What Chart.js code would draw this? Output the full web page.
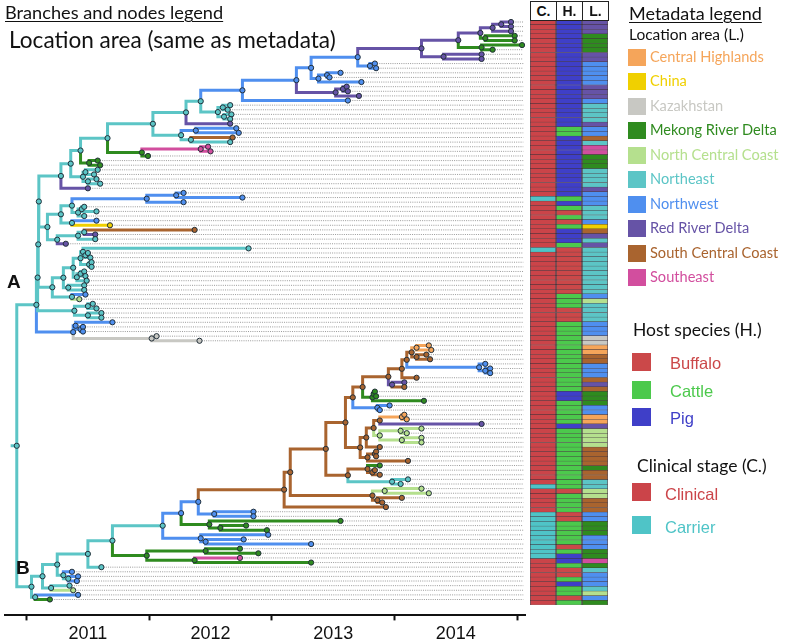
<!DOCTYPE html>
<html>
<head>
<meta charset="utf-8">
<title>Time-scaled tree with metadata</title>
<script src="https://cdn.jsdelivr.net/npm/chart.js@4.4.1/dist/chart.umd.min.js"></script>
<style>
  html, body { margin: 0; padding: 0; background: #fff; }
  body { position: relative; width: 785px; height: 641px; overflow: hidden; font-family: Lato, 'Noto Sans', sans-serif; color: #111; }
  canvas { position: absolute; }
  #treeCanvas { left: 0; top: 0; }
  #metaCanvas { left: 526px; top: 0; }
  .txt { position: absolute; white-space: nowrap; line-height: 1; }
  .u { text-decoration: underline; text-decoration-thickness: 1px; text-underline-offset: 2px; }
  .sw { position: absolute; }
  .hdr { position: absolute; top: 1px; height: 20px; width: 27px; box-sizing: border-box; border: 1px solid #222; background: #fff;
         font: bold 14px 'Liberation Sans', Arial, sans-serif; text-align: center; line-height: 19px; }
  .clade { font: bold 19px 'Liberation Sans', Arial, sans-serif; }
</style>
</head>
<body>
<canvas id="treeCanvas" width="530" height="648"></canvas>
<canvas id="metaCanvas" width="86" height="641"></canvas>
<div class="txt u" style="left:5px;top:3px;font-size:18.2px">Branches and nodes legend</div>
<div class="txt" style="left:9px;top:29px;font-size:22.6px">Location area (same as metadata)</div>
<div class="txt clade" style="left:7px;top:271px">A</div>
<div class="txt clade" style="left:16px;top:557px">B</div>
<div id="legend"></div>
<script>
// ========== Categories
const locationCodes = ['H', 'C', 'K', 'M', 'N', 'E', 'W', 'R', 'S', 'P'];
const locationNames = ['Central Highlands', 'China', 'Kazakhstan', 'Mekong River Delta', 'North Central Coast',
                       'Northeast', 'Northwest', 'Red River Delta', 'South Central Coast', 'Southeast'];
const locationColors = ['#F5A55A', '#F0D000', '#C8C8C3', '#2F8B1F', '#B5E08E',
                        '#5CC5C6', '#4F8FEF', '#6653A6', '#A9642F', '#D24E9E'];

const hostCodes = ['B', 'C', 'P'];
const hostNames = ['Buffalo', 'Cattle', 'Pig'];
const hostColors = ['#CB4849', '#4CC94C', '#3F3FC8'];

const stageCodes = ['K', 'A'];
const stageNames = ['Clinical', 'Carrier'];
const stageColors = ['#CB4449', '#4FC4C7'];

const yearTicks = [2011, 2012, 2013, 2014, 2015];
const yearLabels = ['2011', '2012', '2013', '2014'];

// ========== Metadata read per tip row (top to bottom), as runs [code, count]
const hostRuns = [['P', 23], ['C', 2], ['P', 13], ['C', 1], ['P', 1], ['C', 1], ['B', 1], ['C', 1], ['B', 1], ['C', 1],
                  ['P', 3], ['C', 1], ['B', 10], ['C', 3], ['B', 3], ['C', 15], ['P', 2], ['C', 5], ['P', 1], ['C', 13],
                  ['B', 1], ['C', 4], ['B', 2], ['C', 5], ['B', 1], ['C', 1], ['P', 2], ['C', 1], ['B', 2], ['C', 1],
                  ['P', 1], ['C', 2], ['B', 1], ['C', 1]];
const stageRuns = [['K', 38], ['A', 1], ['K', 10], ['A', 1], ['K', 50], ['A', 1], ['K', 5], ['A', 10], ['K', 10]];

// ========== Tree: [node date (decimal year), location code, ...children]; tips have no children
const purpleTop = [2014.22, 'R',
  [2014.52, 'R',
    [2014.70, 'R',
      [2014.80, 'R',
        [2014.87, 'R', [2014.95, 'R'], [2014.95, 'R']],
        [2014.95, 'R']],
      [2014.74, 'M', [2014.98, 'M'], [2014.98, 'M']]],
    [2014.71, 'M', [2015.04, 'M'], [2014.80, 'M']]],
  [2014.40, 'R', [2014.71, 'R'], [2014.71, 'R']]];

const northwestTop = [2012.76, 'W',
  [2013.20, 'W',
    [2013.32, 'W',
      [2013.70, 'W', purpleTop, [2013.80, 'W', [2013.84, 'W'], [2013.85, 'W']]],
      [2013.38, 'W', [2013.45, 'W', [2013.56, 'W'], [2013.47, 'W']], [2013.73, 'W']]],
    [2013.52, 'R', [2013.58, 'R', [2013.61, 'R'], [2013.62, 'R']], [2013.71, 'R']]],
  [2013.62, 'W']];

const cladeTop = [2011.28, 'E',
  [2011.36, 'E',
    [2011.44, 'E',
      [2011.66, 'E',
        [2012.03, 'E',
          [2012.30, 'E',
            [2012.42, 'E', northwestTop,
              [2012.56, 'E', [2012.60, 'E', [2012.66, 'E'], [2012.64, 'E']], [2012.61, 'E', [2012.67, 'E'], [2012.66, 'E']]]],
            [2012.66, 'R']],
          [2012.26, 'E',
            [2012.38, 'W', [2012.71, 'W'], [2012.73, 'W']],
            [2012.34, 'E', [2012.68, 'S'], [2012.66, 'E']]]],
        [2011.94, 'M', [2012.42, 'P', [2012.48, 'P'], [2012.50, 'P']], [2011.99, 'M']]],
      [2011.51, 'M', [2011.58, 'M'], [2011.60, 'M']]],
    [2011.46, 'E', [2011.48, 'E', [2011.58, 'E'], [2011.55, 'E']], [2011.50, 'E', [2011.57, 'E'], [2011.60, 'E']]]],
  [2011.50, 'R']];

const cladeMid = [2011.17, 'E',
  [2011.28, 'E',
    [2011.37, 'E',
      [2011.98, 'W', [2012.22, 'W', [2012.28, 'W'], [2012.76, 'W']], [2012.28, 'W']],
      [2011.42, 'E', [2011.45, 'E', [2011.47, 'E'], [2011.57, 'E']], [2011.47, 'E']]],
    [2011.37, 'E', [2011.57, 'W'], [2011.68, 'C']]],
  [2011.25, 'E',
    [2011.42, 'E', [2011.47, 'E', [2012.37, 'S'], [2011.56, 'R']], [2011.56, 'E']],
    [2011.32, 'R']]];

const cladeNortheast = [2011.21, 'E',
  [2011.30, 'E',
    [2011.38, 'E',
      [2011.44, 'E',
        [2011.46, 'E', [2012.81, 'E'], [2011.48, 'E', [2011.50, 'E'], [2011.52, 'E']]],
        [2011.51, 'E', [2011.53, 'E'], [2011.53, 'E']]],
      [2011.41, 'E', [2011.44, 'E', [2011.47, 'E'], [2011.48, 'E']], [2011.49, 'E']]],
    [2011.34, 'E', [2011.47, 'E'], [2011.47, 'E']]],
  [2011.37, 'E', [2011.48, 'W'], [2011.43, 'N']]];

const cladeSmall = [2011.39, 'E',
  [2011.50, 'E', [2011.54, 'E'], [2011.57, 'E']],
  [2011.50, 'E', [2011.61, 'E'], [2011.61, 'E']]];

const cladeBlue = [2011.38, 'W',
  [2011.40, 'W', [2011.70, 'W'], [2011.44, 'W', [2011.46, 'W'], [2011.46, 'W']]],
  [2012.02, 'K', [2012.06, 'K'], [2012.41, 'K']]];

const cladeA = [2011.08, 'E',
  [2011.09, 'E',
    [2011.095, 'E',
      [2011.10, 'E', cladeTop, cladeMid],
      cladeNortheast],
    cladeSmall],
  cladeBlue];

const cladeSouthCentral = [2013.10, 'S',
  [2013.15, 'S',
    [2013.44, 'S',
      [2013.60, 'S',
        [2013.66, 'S',
          [2013.74, 'S',
            [2013.95, 'S',
              [2014.06, 'S',
                [2014.10, 'S',
                  [2014.14, 'S',
                    [2014.18, 'H', [2014.28, 'H'], [2014.30, 'H']],
                    [2014.18, 'S', [2014.26, 'S'], [2014.29, 'S']]],
                  [2014.69, 'W', [2014.74, 'W'], [2014.74, 'W', [2014.78, 'W'], [2014.78, 'W']]]],
                [2014.18, 'S']],
              [2013.98, 'R', [2014.08, 'R'], [2014.08, 'S']]],
            [2013.82, 'M', [2013.83, 'M', [2013.84, 'M'], [2013.85, 'M']], [2014.24, 'M']]],
          [2013.86, 'W', [2013.96, 'W'], [2013.88, 'W']]],
        [2013.72, 'S',
          [2013.77, 'S',
            [2013.83, 'S',
              [2013.88, 'S', [2014.06, 'H', [2014.08, 'H'], [2014.10, 'H']], [2014.71, 'R']],
              [2013.88, 'N', [2014.05, 'N', [2014.22, 'N'], [2014.10, 'N']], [2014.06, 'N', [2014.22, 'N'], [2014.22, 'N']]]],
            [2013.88, 'S']],
          [2013.78, 'S', [2013.84, 'S', [2013.85, 'S'], [2013.85, 'S']], [2014.11, 'S']]]],
      [2013.62, 'S',
        [2013.78, 'S', [2013.88, 'M'], [2013.82, 'S', [2013.84, 'S'], [2013.88, 'S']]],
        [2013.98, 'E', [2014.11, 'E'], [2014.05, 'E']]]],
    [2013.82, 'S',
      [2013.92, 'N', [2014.22, 'N'], [2014.28, 'N']],
      [2013.86, 'S', [2014.06, 'S'], [2013.90, 'S']]]],
  [2013.93, 'S']];

const cladeB = [2011.04, 'E',
  [2011.13, 'E',
    [2011.25, 'E',
      [2011.50, 'E',
        [2011.70, 'E',
          [2012.11, 'E',
            [2012.26, 'W',
              [2012.40, 'W', cladeSouthCentral, [2012.53, 'W', [2012.85, 'W'], [2012.85, 'W']]],
              [2012.49, 'M', [2013.56, 'M'], [2012.58, 'M', [2012.79, 'M'], [2012.96, 'M']]]],
            [2012.42, 'W', [2012.97, 'W'], [2012.46, 'W', [2012.77, 'W'], [2013.32, 'W']]]],
          [2011.98, 'M',
            [2012.46, 'M', [2012.74, 'M'], [2012.89, 'M']],
            [2012.37, 'M', [2012.74, 'P'], [2013.32, 'M']]]],
        [2011.61, 'E']],
      [2011.30, 'E', [2011.37, 'W'], [2011.34, 'E', [2011.42, 'W'], [2011.41, 'W']]]],
    [2011.20, 'E', [2011.35, 'E'], [2011.38, 'N']]],
  [2011.07, 'E', [2011.42, 'W'], [2011.19, 'M']]];

const treeRoot = [2010.92, 'E', cladeA, cladeB];
const rootStubStart = 2010.87;
const tipGuideEnd = 2015.05;

// ========== Layout of the tree (rows = tips, top to bottom)
const colorOf = code => locationColors[locationCodes.indexOf(code)];
function buildNode(a) {
    return { t: a[0], loc: a[1], kids: a.slice(2).map(buildNode) };
}
const root = buildNode(treeRoot);
const tips = [];
(function place(n) {
    if (!n.kids.length) { n.y = tips.length; tips.push(n); return; }
    n.kids.forEach(place);
    n.y = (n.kids[0].y + n.kids[n.kids.length - 1].y) / 2;
})(root);

const branchPts = {};
locationCodes.forEach(c => branchPts[c] = []);
branchPts[root.loc].push({ x: rootStubStart, y: root.y }, { x: root.t, y: root.y }, { x: null, y: null });
const allNodes = [];
(function walk(n) {
    allNodes.push(n);
    n.kids.forEach(c => {
        branchPts[c.loc].push({ x: n.t, y: n.y }, { x: n.t, y: c.y }, { x: c.t, y: c.y }, { x: null, y: null });
        walk(c);
    });
})(root);

const guidePts = [];
tips.forEach(t => guidePts.push({ x: t.t, y: t.y }, { x: tipGuideEnd, y: t.y }, { x: null, y: null }));

// ========== Tree chart
const treeDatasets = [{
    label: 'Nodes',
    data: allNodes.map(n => ({ x: n.t, y: n.y })),
    showLine: false,
    pointRadius: 2.6,
    pointBorderWidth: 1,
    pointBorderColor: '#23303a',
    pointBackgroundColor: allNodes.map(n => colorOf(n.loc)),
    order: 0,
    clip: false
}];
locationCodes.forEach(c => treeDatasets.push({
    label: locationNames[locationCodes.indexOf(c)],
    data: branchPts[c],
    showLine: true,
    borderColor: colorOf(c),
    borderWidth: 3,
    pointRadius: 0,
    spanGaps: false,
    order: 1,
    clip: false
}));
treeDatasets.push({
    label: 'Tip guides',
    data: guidePts,
    showLine: true,
    borderColor: '#9a9a9a',
    borderWidth: 1,
    borderDash: [1, 1.2],
    pointRadius: 0,
    spanGaps: false,
    order: 2
});

const xMin = 2010.824, xMax = 2015.064;
new Chart(document.getElementById('treeCanvas'), {
    type: 'scatter',
    data: { datasets: treeDatasets },
    options: {
        responsive: false,
        animation: false,
        events: [],
        layout: { padding: { left: 0, right: 0, top: 20, bottom: 0 } },
        plugins: { legend: { display: false }, tooltip: { enabled: false } },
        scales: {
            x: {
                type: 'linear',
                min: xMin,
                max: xMax,
                afterBuildTicks: axis => {
                    const t = [];
                    yearTicks.forEach((v, i) => {
                        t.push({ value: v });
                        if (i < yearLabels.length) t.push({ value: v + 0.5 });
                    });
                    axis.ticks = t;
                },
                ticks: {
                    autoSkip: false,
                    maxRotation: 0,
                    padding: 3,
                    color: '#111',
                    font: { family: "'Liberation Sans', Arial, sans-serif", size: 18 },
                    callback: v => Number.isInteger(v) ? '' : yearLabels[yearTicks.indexOf(v - 0.5)]
                },
                grid: {
                    drawOnChartArea: false,
                    drawTicks: true,
                    tickLength: 5,
                    tickWidth: 2,
                    tickColor: ctx => (ctx.tick && Number.isInteger(ctx.tick.value)) ? '#111' : 'rgba(0,0,0,0)'
                },
                border: { display: true, color: '#111', width: 2 }
            },
            y: { display: false, reverse: true, min: -0.43, max: 128.44 }
        }
    }
});

// ========== Metadata columns (C., H., L.)
const expand = runs => runs.flatMap(([code, n]) => Array(n).fill(code));
const stageSeq = expand(stageRuns);
const hostSeq = expand(hostRuns);
const locationSeq = tips.map(t => t.loc);
const rowLabels = tips.map((t, i) => 'tip ' + (i + 1));

const metaColumns = [
    { name: 'C.', seq: stageSeq, codes: stageCodes, colors: stageColors },
    { name: 'H.', seq: hostSeq, codes: hostCodes, colors: hostColors },
    { name: 'L.', seq: locationSeq, codes: locationCodes, colors: locationColors }
];

new Chart(document.getElementById('metaCanvas'), {
    type: 'bar',
    data: {
        labels: rowLabels,
        datasets: metaColumns.map((col, k) => ({
            label: col.name,
            data: col.seq.map(() => [k, k + 1]),
            backgroundColor: col.seq.map(c => col.colors[col.codes.indexOf(c)]),
            borderColor: 'rgba(40,25,35,0.75)',
            borderWidth: { top: 0.5, bottom: 0.5, left: 1, right: 1 },
            borderSkipped: false,
            barPercentage: 1,
            categoryPercentage: 1,
            grouped: false
        }))
    },
    options: {
        indexAxis: 'y',
        responsive: false,
        animation: false,
        events: [],
        layout: { padding: { left: 4, right: 4, top: 20, bottom: 36 } },
        plugins: { legend: { display: false }, tooltip: { enabled: false } },
        scales: {
            x: { display: false, min: 0, max: 3 },
            y: { display: false }
        }
    }
});

// ========== Column headers and metadata legend
const legend = document.getElementById('legend');
function addDiv(cls, text, css) {
    const d = document.createElement('div');
    d.className = cls;
    if (text) d.textContent = text;
    d.style.cssText = css;
    legend.appendChild(d);
}
metaColumns.forEach((col, k) => addDiv('hdr', col.name, 'left:' + (530 + k * 26) + 'px'));

addDiv('txt u', 'Metadata legend', 'left:629px;top:4px;font-size:18px');
addDiv('txt', 'Location area (L.)', 'left:629px;top:27px;font-size:15.5px');
locationNames.forEach((name, i) => {
    const top = 49 + i * 24.45;
    addDiv('sw', '', 'left:628px;top:' + top + 'px;width:18px;height:17px;background:' + locationColors[i]);
    addDiv('txt', name, 'left:650px;top:' + (top + 1) + 'px;font-size:14.6px;color:' + locationColors[i]);
});

addDiv('txt', 'Host species (H.)', 'left:633px;top:321px;font-size:17.5px');
hostNames.forEach((name, i) => {
    const top = 353 + i * 27.5;
    addDiv('sw', '', 'left:632px;top:' + top + 'px;width:19px;height:18px;background:' + hostColors[i]);
    addDiv('txt', name, "left:670px;top:" + (top + 1) + "px;font:16.5px 'Liberation Sans',Arial,sans-serif;color:" + hostColors[i]);
});

addDiv('txt', 'Clinical stage (C.)', 'left:637px;top:457px;font-size:17.5px');
stageNames.forEach((name, i) => {
    const top = 483 + i * 33;
    addDiv('sw', '', 'left:632px;top:' + top + 'px;width:19px;height:18px;background:' + stageColors[i]);
    addDiv('txt', name, "left:665px;top:" + (top + 2) + "px;font:16.5px 'Liberation Sans',Arial,sans-serif;color:" + stageColors[i]);
});
</script>
</body>
</html>
